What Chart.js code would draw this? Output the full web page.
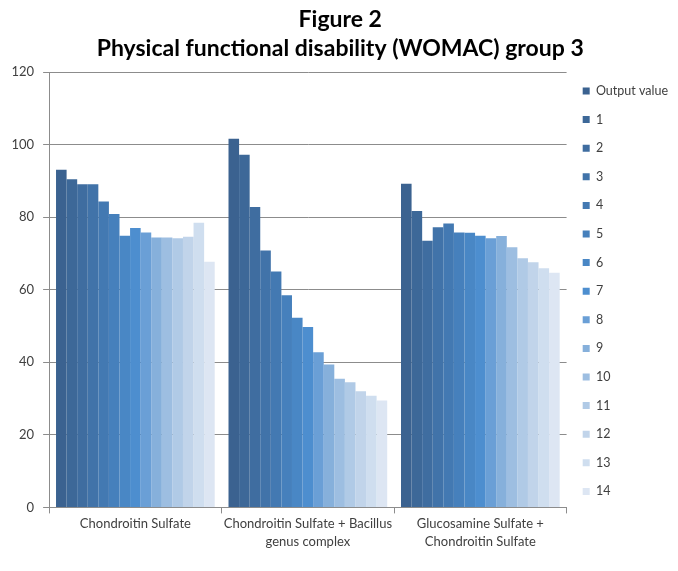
<!DOCTYPE html>
<html>
<head>
<meta charset="utf-8">
<script src="https://cdn.jsdelivr.net/npm/chart.js@4/dist/chart.umd.min.js"></script>
<style>
    html, body { margin: 0; padding: 0; background: #ffffff; }
    #wrap { width: 678px; height: 571px; }
</style>
</head>
<body>
<div id="wrap"><canvas id="chart"></canvas></div>
<script>
// Categories on the x axis
const categories = [
    'Chondroitin Sulfate',
    ['Chondroitin Sulfate + Bacillus', 'genus complex'],
    ['Glucosamine Sulfate +', 'Chondroitin Sulfate']
];

// Series names (legend)
const seriesNames = ['Output value', '1', '2', '3', '4', '5', '6', '7', '8', '9', '10', '11', '12', '13', '14'];

// Values per group, one entry per series
const chondroitinValues = [93.1, 90.5, 89.1, 89.1, 84.3, 80.9, 74.9, 77.0, 75.8, 74.4, 74.4, 74.2, 74.6, 78.5, 67.7];
const bacillusValues = [101.6, 97.2, 82.8, 70.8, 65.0, 58.5, 52.3, 49.7, 42.8, 39.4, 35.5, 34.5, 32.0, 30.8, 29.5];
const glucosamineValues = [89.2, 81.7, 73.5, 77.2, 78.3, 75.8, 75.7, 74.9, 74.2, 74.8, 71.7, 68.7, 67.6, 65.9, 64.7];

// Y axis ticks
const yTicks = [0, 20, 40, 60, 80, 100, 120];

// Colour ramp, dark blue to pale blue
const seriesColors = [
    '#3b6290', '#3d6898', '#3f6da0', '#4173a9', '#4379b2',
    '#4680bc', '#4987c5', '#4d8ecf', '#6a9fd6', '#86b0db',
    '#9dbee1', '#b0cae6', '#c1d4ea', '#cfdeef', '#dde6f3'
];

const groups = [chondroitinValues, bacillusValues, glucosamineValues];

const datasets = seriesNames.map((name, i) => ({
    label: name,
    data: groups.map(g => g[i]),
    backgroundColor: seriesColors[i],
    borderWidth: 0,
    categoryPercentage: 0.92,
    barPercentage: 1.0
}));

const ctx = document.getElementById('chart').getContext('2d');
new Chart(ctx, {
    type: 'bar',
    data: {
        labels: categories,
        datasets: datasets
    },
    options: {
        responsive: true,
        maintainAspectRatio: false,
        animation: false,
        layout: {
            padding: { left: 2.5, right: 0, top: 0, bottom: 18.5 }
        },
        plugins: {
            title: {
                display: true,
                text: ['Figure 2', 'Physical functional disability (WOMAC) group 3'],
                color: '#000000',
                font: { family: 'Lato', size: 23, weight: 'bold', lineHeight: 1.22 },
                padding: { top: 6, bottom: 10 }
            },
            legend: {
                display: true,
                position: 'right',
                align: 'start',
                // empty title only pushes the items down
                title: {
                    display: true,
                    text: '',
                    font: { family: 'Lato', size: 12, lineHeight: 1.2 },
                    padding: { top: 54.25, bottom: 0 }
                },
                labels: {
                    color: '#404040',
                    font: { family: 'Lato', size: 12.5 },
                    boxWidth: 7,
                    boxHeight: 7,
                    padding: 16.1
                }
            },
            tooltip: { enabled: false }
        },
        scales: {
            x: {
                grid: {
                    display: true,
                    drawOnChartArea: false,
                    drawTicks: true,
                    tickLength: 6,
                    color: '#8c8c8c'
                },
                border: { display: true, color: '#8c8c8c' },
                ticks: {
                    color: '#404040',
                    font: { family: 'Lato', size: 13, lineHeight: 1.35 },
                    padding: 2,
                    maxRotation: 0
                }
            },
            y: {
                min: 0,
                max: 120,
                afterBuildTicks: function(scale) {
                    scale.ticks = yTicks.map(v => ({ value: v }));
                },
                grid: {
                    color: '#8c8c8c',
                    drawTicks: true,
                    tickLength: 6
                },
                border: { display: true, color: '#8c8c8c' },
                ticks: {
                    color: '#404040',
                    font: { family: 'Lato', size: 13 },
                    padding: 9
                }
            }
        }
    }
});
</script>
</body>
</html>
